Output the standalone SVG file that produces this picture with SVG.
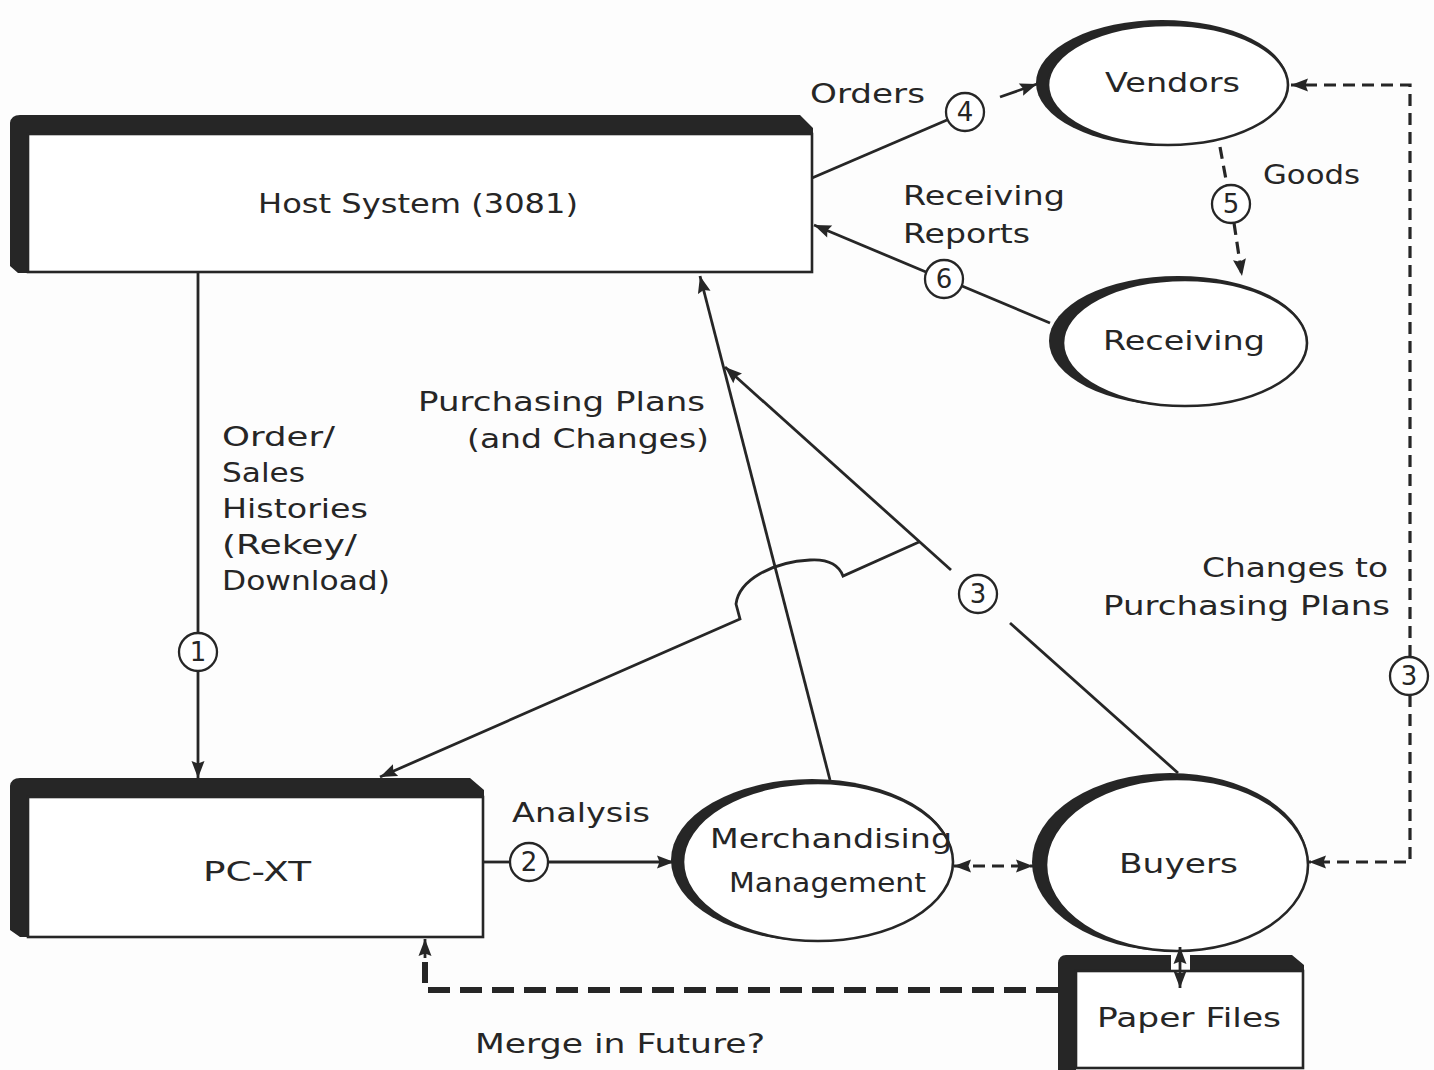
<svg xmlns="http://www.w3.org/2000/svg" width="1434" height="1070" viewBox="0 0 1434 1070">
<style>
text{font-family:"DejaVu Sans","Liberation Sans",sans-serif;fill:#262626;font-size:26px}
.num{font-size:26px;text-anchor:middle}
.ln{stroke:#262626;stroke-width:2.8;fill:none}
.dsh{stroke:#262626;stroke-width:3.2;fill:none;stroke-dasharray:12 7}
.dk{fill:#262626}
.wb{fill:#fff;stroke:#262626;stroke-width:2.6}
.cir{fill:#fff;stroke:#262626;stroke-width:2.3}
</style>
<defs>
<marker id="ah" viewBox="0 0 17 14" refX="17" refY="7" markerWidth="18" markerHeight="14" markerUnits="userSpaceOnUse" orient="auto-start-reverse"><path d="M0,0.5 L17,7 L0,13.5 L2.5,7 Z" fill="#262626"/></marker>
</defs>
<rect width="1434" height="1070" fill="#fdfdfd"/>

<g id="host">
<path class="dk" d="M10,123 Q11,115 20,115 L800,115 L813,128 L813,134 L28,134 L28,273 L18,273 L10,266 Z"/>
<rect class="wb" x="28" y="134" width="784" height="138"/>
<text x="258" y="213" textLength="320" lengthAdjust="spacingAndGlyphs">Host System (3081)</text>
</g>

<g id="pcxt">
<path class="dk" d="M10,786 Q11,778 20,778 L470,778 L484,790 L484,797 L28,797 L28,937 L20,937 L10,930 Z"/>
<rect class="wb" x="28" y="797" width="455" height="140"/>
<text x="203" y="881" textLength="108" lengthAdjust="spacingAndGlyphs">PC-XT</text>
</g>

<g id="paper">
<path class="dk" d="M1058,963 Q1059,955 1066,955 L1292,955 L1304,965 L1304,971 L1076,971 L1076,1070 L1058,1070 Z"/>
<rect x="1171" y="955" width="19" height="15" fill="#fdfdfd"/>
<rect class="wb" x="1076" y="971" width="227" height="97"/>
<text x="1097" y="1027" textLength="184" lengthAdjust="spacingAndGlyphs">Paper Files</text>
</g>

<g id="vendors">
<ellipse class="dk" cx="1162" cy="83" rx="126" ry="63"/>
<ellipse class="wb" cx="1168" cy="85" rx="120" ry="60"/>
<text x="1105" y="92" textLength="135" lengthAdjust="spacingAndGlyphs">Vendors</text>
</g>

<g id="receiving">
<ellipse class="dk" cx="1178" cy="341" rx="129" ry="65"/>
<ellipse class="wb" cx="1185" cy="343" rx="122" ry="63"/>
<text x="1103" y="350" textLength="162" lengthAdjust="spacingAndGlyphs">Receiving</text>
</g>

<g id="merch">
<ellipse class="dk" cx="812" cy="860" rx="141" ry="81"/>
<ellipse class="wb" cx="818" cy="862" rx="135" ry="79"/>
<text x="710" y="848" textLength="242" lengthAdjust="spacingAndGlyphs">Merchandising</text>
<text x="729" y="892" textLength="197" lengthAdjust="spacingAndGlyphs">Management</text>
</g>

<g id="buyers">
<ellipse class="dk" cx="1170" cy="862" rx="138" ry="89"/>
<ellipse class="wb" cx="1177" cy="865" rx="131" ry="86"/>
<text x="1119" y="873" textLength="119" lengthAdjust="spacingAndGlyphs">Buyers</text>
</g>

<g id="connectors">
<line class="ln" x1="198" y1="272" x2="198" y2="633"/>
<line class="ln" x1="198" y1="671" x2="198" y2="778" marker-end="url(#ah)"/>
<circle class="cir" cx="198" cy="652" r="19"/>
<text class="num" x="198" y="661">1</text>
<line class="ln" x1="483" y1="862" x2="510" y2="862"/>
<line class="ln" x1="548" y1="862" x2="674" y2="862" marker-end="url(#ah)"/>
<circle class="cir" cx="529" cy="862" r="19"/>
<text class="num" x="529" y="871">2</text>
<line class="ln" x1="830" y1="780" x2="700" y2="276" marker-end="url(#ah)"/>
<line class="ln" x1="1178" y1="773" x2="1010" y2="623"/>
<line class="ln" x1="951" y1="570" x2="725" y2="367" marker-end="url(#ah)"/>
<circle class="cir" cx="978" cy="594" r="19"/>
<text class="num" x="978" y="603">3</text>
<path class="ln" d="M919,542 L843,576 C838,563 826,559 810,560 C772,562 739,580 736,604 L740,619 L380,777" marker-end="url(#ah)"/>
<line class="ln" x1="812" y1="178" x2="947" y2="120"/>
<line class="ln" x1="1000" y1="97" x2="1037" y2="84" marker-end="url(#ah)"/>
<circle class="cir" cx="965" cy="112" r="19"/>
<text class="num" x="965" y="121">4</text>
<line class="ln" x1="1050" y1="323" x2="962" y2="286"/>
<line class="ln" x1="926" y1="272" x2="814" y2="225" marker-end="url(#ah)"/>
<circle class="cir" cx="944" cy="279" r="19"/>
<text class="num" x="944" y="288">6</text>
<line class="dsh" x1="1220" y1="147" x2="1227" y2="185"/>
<line class="dsh" x1="1234" y1="223" x2="1242" y2="276" marker-end="url(#ah)"/>
<circle class="cir" cx="1231" cy="204" r="19"/>
<text class="num" x="1231" y="213">5</text>
<path class="dsh" d="M1410,657 L1410,85 L1291,85" marker-end="url(#ah)"/>
<path class="dsh" d="M1410,695 L1410,862 L1309,862" marker-end="url(#ah)"/>
<circle class="cir" cx="1409" cy="676" r="19"/>
<text class="num" x="1409" y="685">3</text>
<line class="dsh" x1="954" y1="866" x2="1033" y2="866" marker-start="url(#ah)" marker-end="url(#ah)" stroke-dasharray="8 5"/>
<line class="ln" x1="1180" y1="947" x2="1180" y2="988" marker-start="url(#ah)" marker-end="url(#ah)"/>
<path d="M1058,990 L425,990 L425,962" fill="none" stroke="#262626" stroke-width="6" stroke-dasharray="22 10"/>
<line class="ln" x1="425" y1="958" x2="425" y2="939" marker-end="url(#ah)"/>
</g>

<g id="labels">
<text x="810" y="103" textLength="115" lengthAdjust="spacingAndGlyphs">Orders</text>
<text x="1263" y="184" textLength="97" lengthAdjust="spacingAndGlyphs">Goods</text>
<text x="903" y="205" textLength="162" lengthAdjust="spacingAndGlyphs">Receiving</text>
<text x="903" y="243" textLength="127" lengthAdjust="spacingAndGlyphs">Reports</text>
<text x="418" y="411" textLength="287" lengthAdjust="spacingAndGlyphs">Purchasing Plans</text>
<text x="467" y="448" textLength="242" lengthAdjust="spacingAndGlyphs">(and Changes)</text>
<text x="222" y="446" textLength="113" lengthAdjust="spacingAndGlyphs">Order/</text>
<text x="222" y="482" textLength="83" lengthAdjust="spacingAndGlyphs">Sales</text>
<text x="222" y="518" textLength="146" lengthAdjust="spacingAndGlyphs">Histories</text>
<text x="222" y="554" textLength="135" lengthAdjust="spacingAndGlyphs">(Rekey/</text>
<text x="222" y="590" textLength="168" lengthAdjust="spacingAndGlyphs">Download)</text>
<text x="1202" y="577" textLength="186" lengthAdjust="spacingAndGlyphs">Changes to</text>
<text x="1103" y="615" textLength="287" lengthAdjust="spacingAndGlyphs">Purchasing Plans</text>
<text x="512" y="822" textLength="138" lengthAdjust="spacingAndGlyphs">Analysis</text>
<text x="475" y="1053" textLength="290" lengthAdjust="spacingAndGlyphs">Merge in Future?</text>
</g>
</svg>
